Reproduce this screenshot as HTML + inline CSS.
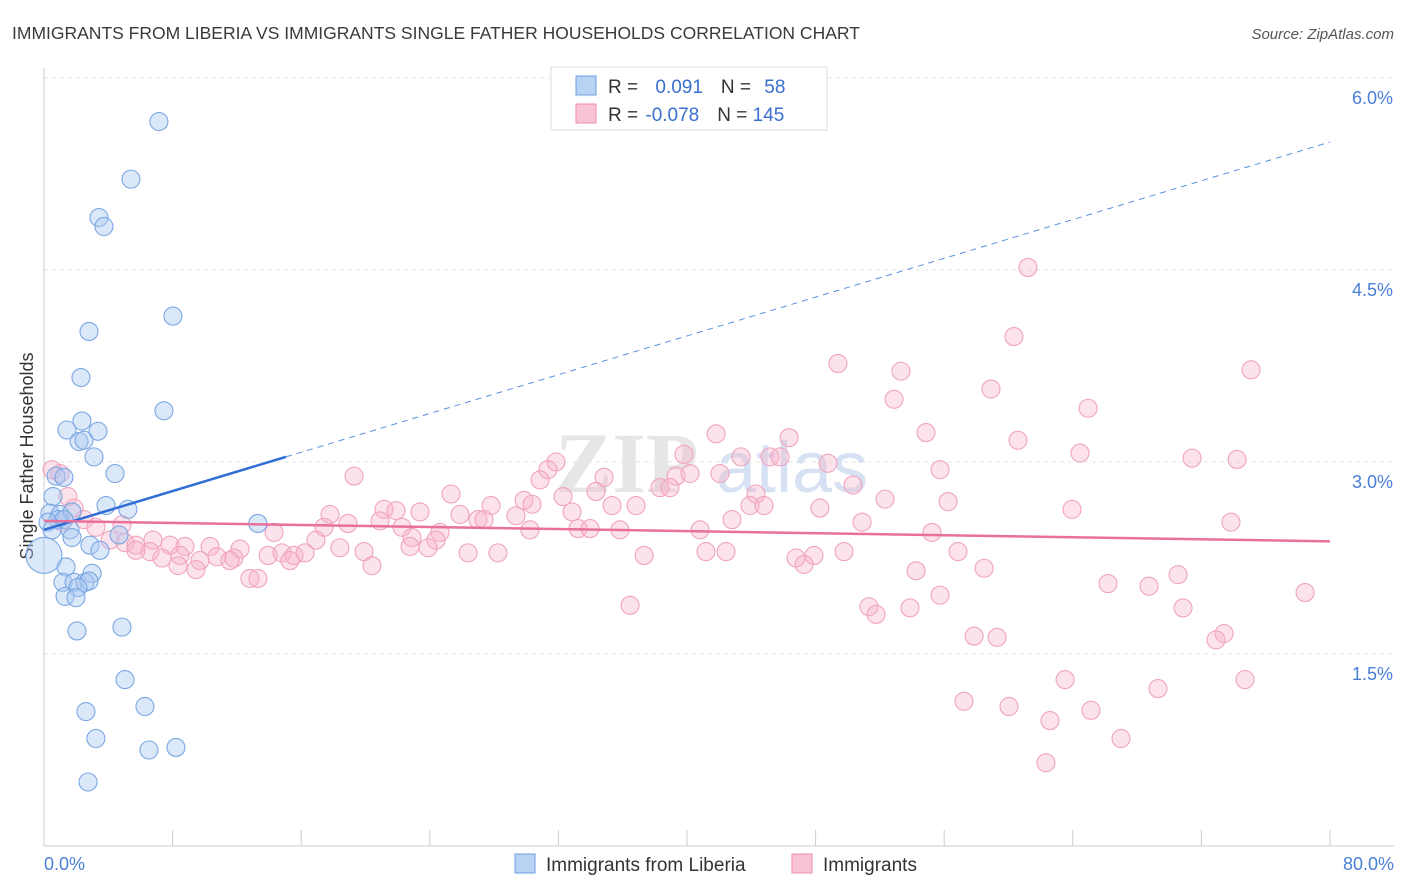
<!DOCTYPE html>
<html><head><meta charset="utf-8">
<style>
body{margin:0;background:#fff;font-family:"Liberation Sans",sans-serif;}
#wrap{position:relative;width:1406px;height:892px;overflow:hidden;}
</style></head>
<body>
<div id="wrap">
<svg id="svg" width="1406" height="892" xmlns="http://www.w3.org/2000/svg">
<text x="12" y="39" font-size="17.5" fill="#3a3a3a">IMMIGRANTS FROM LIBERIA VS IMMIGRANTS SINGLE FATHER HOUSEHOLDS CORRELATION CHART</text>
<text x="1394" y="39" font-size="15" fill="#555" font-style="italic" text-anchor="end">Source: ZipAtlas.com</text>
<text x="33" y="456" font-size="18" fill="#333" text-anchor="middle" transform="rotate(-90 33 456)">Single Father Households</text>
<g><text x="555" y="492" font-size="86" font-weight="bold" fill="#e6e6e6" font-family="Liberation Serif, serif">ZIP</text><text x="716" y="492" font-size="72" fill="#d6e2f3">atlas</text></g>
<g id="grid"></g><g id="axes"></g><g id="pts"></g><g id="lines"></g>
<g>
<rect x="551" y="67" width="276" height="63" fill="#fff" stroke="#ddd"/>
<rect x="576" y="76" width="20" height="19" fill="#b8d2f4" stroke="#6d9fe0"/>
<rect x="576" y="104" width="20" height="19" fill="#f8c4d4" stroke="#ec8db0"/>
<text x="608" y="93" font-size="19" fill="#333">R = <tspan fill="#3a6fd0" dx="12">0.091</tspan><tspan fill="#333" dx="18">N = </tspan><tspan fill="#3a6fd0" dx="8">58</tspan></text>
<text x="608" y="121" font-size="19" fill="#333">R = <tspan fill="#3a6fd0" dx="2">-0.078</tspan><tspan fill="#333" dx="18">N = </tspan><tspan fill="#3a6fd0">145</tspan></text>
</g>
<g>
<rect x="515" y="854" width="20" height="19" fill="#b8d2f4" stroke="#6d9fe0"/>
<text x="546" y="871" font-size="19" fill="#333">Immigrants from Liberia</text>
<rect x="792" y="854" width="20" height="19" fill="#f8c4d4" stroke="#ec8db0"/>
<text x="823" y="871" font-size="19" fill="#333">Immigrants</text>
</g>
</svg>
</div>
<script>
const yTicks=[1.5,3.0,4.5,6.0];
const yTickLabels=["1.5%","3.0%","4.5%","6.0%"];
const xTicks=[0,8,16,24,32,40,48,56,64,72,80];
const blueX=[7.15,5.41,3.42,3.73,8.02,2.80,2.30,7.46,2.36,1.43,3.36,2.18,2.49,3.11,4.42,0.75,1.24,0.56,3.86,5.22,0.37,1.00,1.74,0.87,0.25,1.24,0.50,1.62,1.74,2.86,4.67,3.48,13.3,1.37,2.99,1.18,1.87,2.55,2.80,2.11,1.31,1.99,2.05,4.85,5.04,2.61,6.28,3.23,6.53,8.21,2.74];
const blueY=[5.66,5.21,4.91,4.84,4.14,4.02,3.66,3.40,3.32,3.25,3.24,3.16,3.17,3.04,2.91,2.89,2.88,2.73,2.66,2.63,2.60,2.59,2.61,2.55,2.53,2.55,2.47,2.47,2.41,2.35,2.43,2.31,2.52,2.18,2.13,2.06,2.06,2.06,2.07,2.02,1.95,1.94,1.68,1.71,1.30,1.05,1.09,0.84,0.75,0.77,0.50];
const pinkX=[61.21,60.34,49.39,53.31,75.09,58.91,52.88,64.95,41.81,54.87,60.59,46.35,39.81,43.36,45.16,45.79,48.77,64.45,71.42,74.22,31.85,31.35,55.74,34.84,19.29,39.32,40.19,42.05,30.86,34.34,38.32,38.94,50.33,25.32,32.29,52.32,56.24,29.86,27.81,30.36,35.34,36.83,44.29,43.92,44.79,1.00,0.50,1.49,1.87,17.79,21.15,21.90,23.39,25.88,32.85,29.36,27.00,27.37,48.27,63.95,50.89,42.80,20.90,18.91,17.42,22.27,1.12,2.49,3.23,4.85,33.22,33.97,35.83,40.81,73.84,55.24,30.23,14.31,24.63,22.89,24.39,16.92,4.11,5.04,5.72,6.78,7.84,8.77,10.33,12.19,6.59,5.72,18.41,19.91,22.77,23.89,26.38,28.24,37.33,41.18,42.43,46.78,47.90,49.77,56.86,47.28,7.34,8.46,9.70,10.76,11.82,13.94,14.81,15.55,16.24,20.40,15.30,8.34,9.46,11.57,12.81,13.31,54.25,58.48,66.19,68.74,70.55,55.74,78.45,36.46,51.32,51.76,53.87,70.86,73.41,72.91,57.86,59.29,63.52,69.30,74.71,57.23,60.03,62.58,65.13,67.00,62.33];
const pinkY=[4.52,3.98,3.77,3.71,3.72,3.57,3.49,3.42,3.22,3.23,3.17,3.19,3.06,3.04,3.04,3.04,2.99,3.07,3.03,3.02,3.00,2.94,2.94,2.88,2.89,2.89,2.91,2.91,2.86,2.77,2.80,2.80,2.82,2.75,2.73,2.71,2.69,2.70,2.66,2.67,2.66,2.66,2.75,2.66,2.66,2.91,2.94,2.73,2.64,2.59,2.63,2.62,2.61,2.59,2.61,2.58,2.55,2.55,2.64,2.63,2.53,2.55,2.54,2.52,2.49,2.49,2.53,2.55,2.49,2.51,2.48,2.48,2.47,2.47,2.53,2.45,2.47,2.45,2.45,2.41,2.39,2.39,2.39,2.37,2.35,2.39,2.35,2.34,2.34,2.32,2.30,2.31,2.33,2.30,2.34,2.33,2.29,2.29,2.27,2.30,2.30,2.25,2.27,2.30,2.30,2.20,2.25,2.27,2.23,2.26,2.25,2.27,2.29,2.27,2.29,2.19,2.23,2.19,2.16,2.23,2.09,2.09,2.15,2.17,2.05,2.03,2.12,1.96,1.98,1.88,1.87,1.81,1.86,1.86,1.66,1.61,1.64,1.63,1.30,1.23,1.30,1.13,1.09,0.98,1.06,0.84,0.65];
const blueTrend=[2.47,5.50];
const blueSolidEnd=15.05;
const pinkTrend=[2.54,2.38];
const NS='http://www.w3.org/2000/svg';
const sx=v=>44+v/80*1286;
const sy=v=>846-v*128;
function mk(t,a,p){const e=document.createElementNS(NS,t);for(const k in a)e.setAttribute(k,a[k]);p.appendChild(e);return e;}
const grid=document.getElementById('grid'),axes=document.getElementById('axes'),pts=document.getElementById('pts'),lines=document.getElementById('lines');
yTicks.forEach((v,i)=>{
 const l=mk('line',{x1:44,x2:1394,y1:sy(v),y2:sy(v),stroke:'#e4e4e4','stroke-dasharray':'4,4'},grid);
 
 
 const t=mk('text',{x:1393,y:sy(v)+26,'font-size':18,fill:'#4a7fd6','text-anchor':'end'},axes);
 t.textContent=yTickLabels[i];
 
 
});
const ya=mk('line',{x1:44,x2:44,y1:68,y2:846,stroke:'#ccc'},axes);


const xa=mk('line',{x1:44,x2:1394,y1:846,y2:846,stroke:'#ccc'},axes);


xTicks.forEach(v=>{
 const l=mk('line',{x1:sx(v),x2:sx(v),y1:830,y2:846,stroke:'#ccc'},axes);
 
 
});
[["0.0%",44,'start'],["80.0%",1394,'end']].forEach(a=>{
 const t=mk('text',{x:a[1],y:870,'font-size':18,fill:'#4a7fd6','text-anchor':a[2]},axes);
 t.textContent=a[0];
 
 
});
pinkX.forEach((x,i)=>{
 const c=mk('circle',{cx:sx(x),cy:sy(pinkY[i]),r:9,fill:'rgba(246,180,202,0.38)',stroke:'#f0a3bf','stroke-width':1.1},pts);
 
 
});
blueX.forEach((x,i)=>{
 const c=mk('circle',{cx:sx(x),cy:sy(blueY[i]),r:9,fill:'rgba(169,200,240,0.42)',stroke:'#7aa7e3','stroke-width':1.1},pts);
 
 
});
const big=mk('circle',{cx:sx(0),cy:sy(2.27),r:18,fill:'rgba(169,200,240,0.42)',stroke:'#7aa7e3','stroke-width':1.1},pts);


const by=x=>blueTrend[0]+(blueTrend[1]-blueTrend[0])*x/80;
const b1=mk('line',{x1:sx(0),y1:sy(by(0)),x2:sx(blueSolidEnd),y2:sy(by(blueSolidEnd)),stroke:'#2f6fd6','stroke-width':2.5},lines);


const b2=mk('line',{x1:sx(blueSolidEnd),y1:sy(by(blueSolidEnd)),x2:sx(80),y2:sy(by(80)),stroke:'#5a8fe0','stroke-width':1,'stroke-dasharray':'6,5'},lines);


const p1=mk('line',{x1:sx(0),y1:sy(pinkTrend[0]),x2:sx(80),y2:sy(pinkTrend[1]),stroke:'#e8709a','stroke-width':2.5},lines);


</script>
</body></html>
